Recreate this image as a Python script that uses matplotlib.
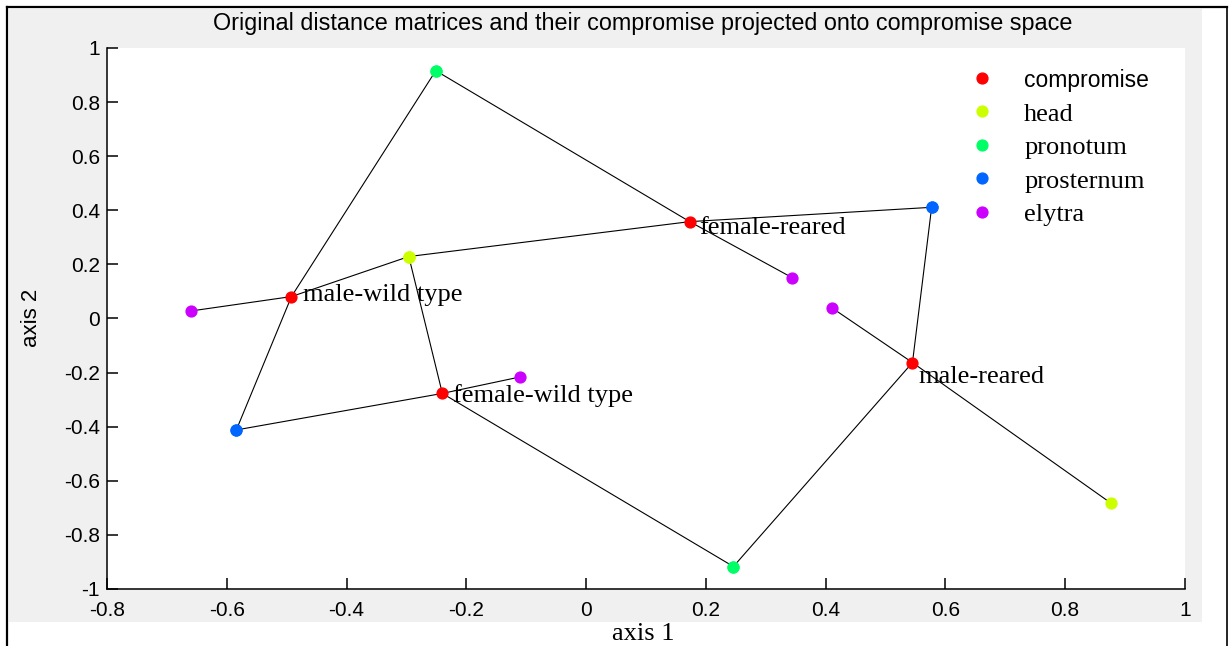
import matplotlib
matplotlib.use("Agg")
import matplotlib.pyplot as plt
from matplotlib.lines import Line2D
from matplotlib.patches import Rectangle

# ---------------- data ----------------
samples = ["male-wild type", "female-wild type", "female-reared", "male-reared"]
series_names = ["compromise", "head", "pronotum", "prosternum", "elytra"]

compromise_x = [-0.492, -0.240, 0.173, 0.545]
compromise_y = [0.081, -0.277, 0.358, -0.163]

head_x = [-0.296, -0.296, -0.296, 0.876]
head_y = [0.229, 0.229, 0.229, -0.682]

pronotum_x = [-0.251, 0.246, -0.251, 0.246]
pronotum_y = [0.916, -0.917, 0.916, -0.917]

prosternum_x = [-0.584, -0.584, 0.577, 0.577]
prosternum_y = [-0.412, -0.412, 0.411, 0.411]

elytra_x = [-0.659, -0.110, 0.344, 0.410]
elytra_y = [0.028, -0.216, 0.151, 0.040]

x_ticks = [-0.8, -0.6, -0.4, -0.2, 0, 0.2, 0.4, 0.6, 0.8, 1]
y_ticks = [-1, -0.8, -0.6, -0.4, -0.2, 0, 0.2, 0.4, 0.6, 0.8, 1]

title = "Original distance matrices and their compromise projected onto compromise space"

# ---------------- style ----------------
colors = [(1, 0, 0), (0.8, 1, 0), (0, 1, 0.4), (0, 0.4, 1), (0.8, 0, 1)]
label_offsets = [(8, -3), (8, -6), (6.5, -9), (4.3, -14.4)]  # points
SANS = "Liberation Sans"
SERIF = "Liberation Serif"

fig = plt.figure(figsize=(12.29, 6.46), dpi=100)
fig.patch.set_facecolor("white")

# grey figure panel and outer frame
bg = Rectangle((0.00732, 0.03715), 0.9707, 0.9490, transform=fig.transFigure,
               facecolor="#f0f0f0", edgecolor="none", zorder=-5)
fig.add_artist(bg)
fig.add_artist(Line2D([0.0061, 0.0061], [0.0, 0.9884], transform=fig.transFigure,
                      color="black", lw=1.6, zorder=-4))
fig.add_artist(Line2D([0.0061, 0.9986], [0.9884, 0.9884], transform=fig.transFigure,
                      color="black", lw=1.6, zorder=-4))
fig.add_artist(Line2D([0.9986, 0.9986], [0.0, 0.9884], transform=fig.transFigure,
                      color="black", lw=1.2, zorder=-4))

ax = fig.add_axes([0.08706, 0.08824, 0.8771, 0.8375])
ax.set_zorder(1)
ax.set_facecolor("white")

parts = [(head_x, head_y), (pronotum_x, pronotum_y),
         (prosternum_x, prosternum_y), (elytra_x, elytra_y)]

# connecting lines
for i in range(len(samples)):
    for px, py in parts:
        ax.plot([compromise_x[i], px[i]], [compromise_y[i], py[i]],
                color="black", lw=0.8, zorder=2)

# points
all_series = [(compromise_x, compromise_y)] + parts
for (sx, sy), c in zip(all_series, colors):
    ax.plot(sx, sy, linestyle="none", marker="o", ms=7.8, color=c,
            markeredgecolor=c, zorder=3)

# labels
for i, name in enumerate(samples):
    ax.annotate(name, (compromise_x[i], compromise_y[i]),
                xytext=label_offsets[i], textcoords="offset points",
                ha="left", va="baseline", fontsize=19, family=SERIF, zorder=4)

ax.set_xlim(-0.8, 1)
ax.set_ylim(-1, 1)
ax.set_xticks(x_ticks)
ax.set_yticks(y_ticks)
ax.set_xticklabels([f"{t:g}" for t in x_ticks])
ax.set_yticklabels([f"{t:g}" for t in y_ticks])
for s in ["top", "right"]:
    ax.spines[s].set_visible(False)
for s in ["left", "bottom"]:
    ax.spines[s].set_linewidth(1.1)
ax.tick_params(direction="in", length=8, width=1.1, labelsize=15)
ax.tick_params(axis="x", pad=8.5)
ax.tick_params(axis="y", pad=5)
for lab in ax.get_xticklabels() + ax.get_yticklabels():
    lab.set_family(SANS)

# legend
handles = [Line2D([], [], linestyle="none", marker="o", ms=7.8, color=c,
                  markeredgecolor=c) for c in colors]
leg = ax.legend(handles, series_names, loc="upper left",
                bbox_to_anchor=(0.8019, 0.962), frameon=False,
                prop={"family": SERIF, "size": 19}, handlelength=0.8,
                handletextpad=1.2, labelspacing=0.38, borderpad=0,
                borderaxespad=0)
leg.get_texts()[0].set_fontfamily(SANS)
leg.get_texts()[0].set_fontsize(16.5)

# title and axis labels
fig.text(0.523, 0.963, title, ha="center", va="center", fontsize=16.8, family=SANS)
fig.text(0.523, 0.0186, "axis 1", ha="center", va="center", fontsize=19,
         family=SERIF, bbox=dict(facecolor="white", edgecolor="none", pad=1))
fig.text(0.026, 0.5077, "axis 2", ha="center", va="center", rotation=90,
         fontsize=16, family=SANS)

fig.savefig("out.png", dpi=100, facecolor=fig.get_facecolor())
